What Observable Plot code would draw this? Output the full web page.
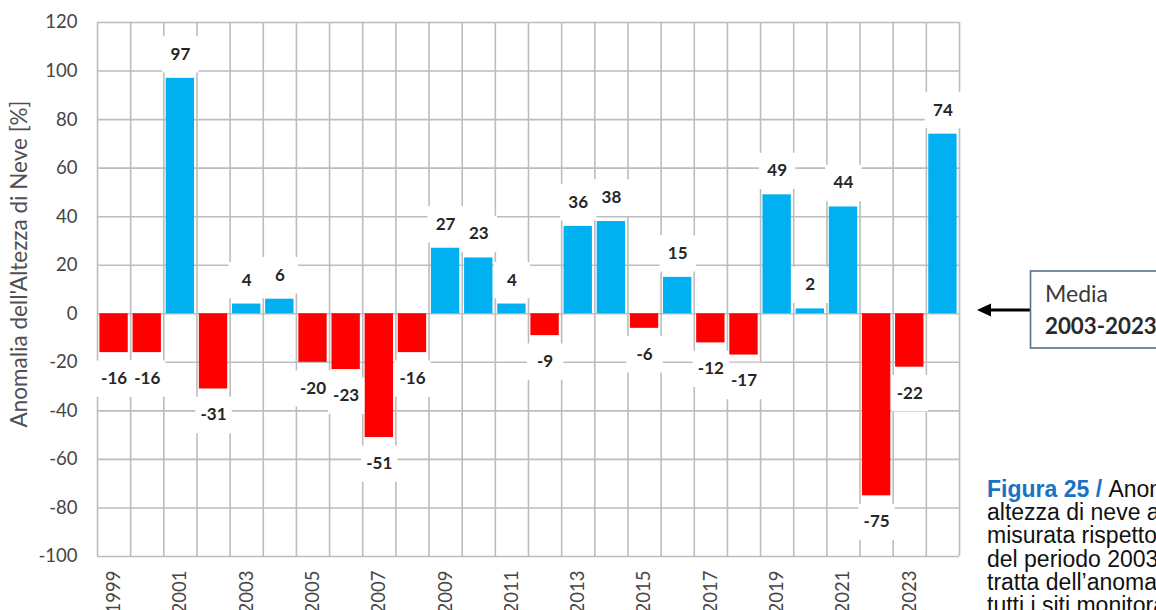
<!DOCTYPE html>
<html>
<head>
<meta charset="utf-8">
<script src="https://cdn.jsdelivr.net/npm/d3@7"></script>
<script src="https://cdn.jsdelivr.net/npm/@observablehq/plot@0.6"></script>
<style>
  html, body { margin: 0; padding: 0; background: #fff; overflow: hidden; }
  #wrap { position: relative; width: 1156px; height: 610px; overflow: hidden; }
  #chart { position: absolute; left: 0; top: 0; }
  #overlay { position: absolute; left: 0; top: 0; }
  #caption {
    position: absolute; left: 987px; top: 478px; width: 400px;
    font-family: "Liberation Sans", Arial, sans-serif; font-size: 23px; line-height: 23px;
    color: #111; white-space: nowrap;
  }
  #caption .ln { height: 23.2px; overflow: visible; }
  #caption .ln > span { display: inline-block; height: 23px; line-height: 23px; vertical-align: top; }
  #caption b { color: #1a72c4; }
</style>
</head>
<body>
<div id="wrap">
  <div id="chart"></div>
  <svg id="overlay" width="1156" height="610"></svg>
  <div id="caption"></div>
</div>
<script>
const years = [1999, 2000, 2001, 2002, 2003, 2004, 2005, 2006, 2007, 2008, 2009, 2010, 2011,
               2012, 2013, 2014, 2015, 2016, 2017, 2018, 2019, 2020, 2021, 2022, 2023, 2024];
const anomalies = [-16, -16, 97, -31, 4, 6, -20, -23, -51, -16, 27, 23, 4,
                   -9, 36, 38, -6, 15, -12, -17, 49, 2, 44, -75, -22, 74];
const yTicks = [-100, -80, -60, -40, -20, 0, 20, 40, 60, 80, 100, 120];
const xTickYears = [1999, 2001, 2003, 2005, 2007, 2009, 2011, 2013, 2015, 2017, 2019, 2021, 2023];
const yTitle = "Anomalia dell'Altezza di Neve [%]";
const boxLines = ["Media", "2003-2023"];
const captionLines = [
  ["Figura 25 / ", "Anomalia dell’"],
  ["", "altezza di neve al suolo"],
  ["", "misurata rispetto alla media"],
  ["", "del periodo 2003-2023. Si"],
  ["", "tratta dell’anomalia media di"],
  ["", "tutti i siti monitorati."]
];

const blue = "#00b0f0", red = "#ff0000", grid = "#bdbdbd";
const data = years.map((year, i) => ({year, value: anomalies[i], sign: anomalies[i] >= 0 ? "pos" : "neg"}));
const pos = data.filter(d => d.value >= 0);
const neg = data.filter(d => d.value < 0);
const bounds = years.map(y => y - 0.5).concat([years[years.length - 1] + 0.5]);

const chart = Plot.plot({
  width: 1156, height: 610,
  marginLeft: 97, marginRight: 197, marginTop: 22, marginBottom: 54,
  x: {type: "linear", domain: [years[0] - 0.5, years[years.length - 1] + 0.5]},
  y: {domain: [-100, 120]},
  color: {domain: ["pos", "neg"], range: [blue, red]},
  style: {fontFamily: "Lato, 'Open Sans', sans-serif", color: "#454545", background: "transparent"},
  marks: [
    Plot.ruleY(yTicks, {stroke: grid, strokeWidth: 1.6}),
    Plot.ruleX(bounds, {y1: yTicks[0], y2: yTicks[yTicks.length - 1], stroke: grid, strokeWidth: 1.6}),
    Plot.rectY(data, {x1: d => d.year - 0.5, x2: d => d.year + 0.5, y: "value", fill: "sign", insetLeft: 2.4, insetRight: 2.4}),
    Plot.dot(pos, {x: "year", y: "value", dy: -24, symbol: "square", r: 20.5, fill: "white"}),
    Plot.dot(neg, {x: "year", y: "value", dy: 26, symbol: "square", r: 20.5, fill: "white"}),
    Plot.text(pos, {x: "year", y: "value", text: d => String(d.value), dy: -24, fontSize: 17, fontWeight: "bold", fill: "#262626"}),
    Plot.text(neg, {x: "year", y: "value", text: d => String(d.value), dy: 26, fontSize: 17, fontWeight: "bold", fill: "#262626"}),
    Plot.axisY({ticks: yTicks, tickFormat: d => String(d), tickSize: 0, tickPadding: 20, fontSize: 18.5, label: null}),
    Plot.axisX({ticks: xTickYears, tickFormat: d => String(d), tickRotate: -90, tickSize: 0, tickPadding: 14, fontSize: 18.5, label: null})
  ]
});
document.getElementById("chart").appendChild(chart);

// y-axis title
const svg = d3.select(chart);
svg.append("text")
  .attr("transform", "translate(27,264) rotate(-90)")
  .attr("text-anchor", "middle")
  .attr("font-family", "Lato, 'Open Sans', sans-serif")
  .attr("font-size", 22.5)
  .attr("fill", "#505050")
  .text(yTitle);

// Arrow and "Media" box
const ov = d3.select("#overlay");
ov.append("line").attr("x1", 1031).attr("x2", 988).attr("y1", 310).attr("y2", 310)
  .attr("stroke", "#000").attr("stroke-width", 3);
ov.append("path").attr("d", "M977,310 L991,303.5 L991,316.5 Z").attr("fill", "#000");
ov.append("rect").attr("x", 1030.5).attr("y", 271).attr("width", 160).attr("height", 77)
  .attr("fill", "#fff").attr("stroke", "#5a6d8c").attr("stroke-width", 1.6);
ov.append("text").attr("x", 1045).attr("y", 302)
  .attr("font-family", "Lato, sans-serif").attr("font-size", 23).attr("fill", "#3a3a3a").text(boxLines[0]);
ov.append("text").attr("x", 1045).attr("y", 334)
  .attr("font-family", "Lato, sans-serif").attr("font-size", 22.3).attr("font-weight", "bold").attr("fill", "#2a2a2a").text(boxLines[1]);

// caption
const cap = d3.select("#caption");
captionLines.forEach(([b, t]) => {
  const line = cap.append("div").attr("class", "ln");
  const s = line.append("span");
  if (b) s.append("b").text(b);
  s.append("span").text(t);
});
</script>
</body>
</html>
